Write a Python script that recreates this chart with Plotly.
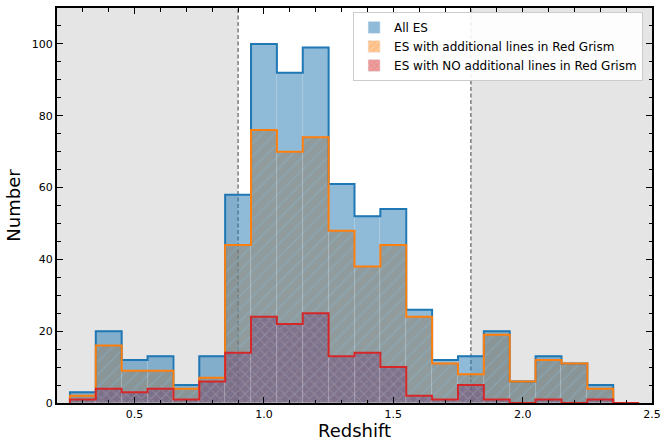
import plotly.graph_objects as go

# ---- data ----
bin_edges = [0.25, 0.35, 0.45, 0.55, 0.65, 0.75, 0.85, 0.95, 1.05, 1.15, 1.25, 1.35,
             1.45, 1.55, 1.65, 1.75, 1.85, 1.95, 2.05, 2.15, 2.25, 2.35, 2.45]
bin_centers = [0.3, 0.4, 0.5, 0.6, 0.7, 0.8, 0.9, 1.0, 1.1, 1.2, 1.3, 1.4,
               1.5, 1.6, 1.7, 1.8, 1.9, 2.0, 2.1, 2.2, 2.3, 2.4]
all_es = [3, 20, 12, 13, 5, 13, 58, 100, 92, 99, 61, 52, 54, 26, 12, 13, 20, 6, 13, 11, 5, 0]
with_lines = [2, 16, 9, 9, 4, 7, 44, 76, 70, 74, 48, 38, 44, 24, 11, 8, 19, 6, 12, 11, 4, 0]
no_lines = [1, 4, 3, 4, 1, 6, 14, 24, 22, 25, 13, 14, 10, 2, 1, 5, 1, 0, 1, 0, 1, 0]
z_low, z_high = 0.9, 1.8
x_range = [0.2, 2.5]
y_range = [0, 110]
names = ["All ES", "ES with additional lines in Red Grism", "ES with NO additional lines in Red Grism"]

BLUE, ORANGE, RED = "#1f77b4", "#ff7f0e", "#d62728"
FONT = "DejaVu Sans"


def step_outline(edges, vals):
    xs, ys = [edges[0]], [0]
    for i, v in enumerate(vals):
        xs += [edges[i], edges[i + 1]]
        ys += [v, v]
    xs.append(edges[-1])
    ys.append(0)
    return xs, ys


edge_line = dict(width=0.6, color="rgba(255,255,255,0.22)")
fig = go.Figure()

# filled histograms: orange (hatched), blue translucent over it, red cross-hatched on top
fig.add_trace(go.Bar(
    x=bin_centers, y=with_lines, width=0.1, name=names[1], showlegend=False,
    marker=dict(color="rgba(255,127,14,0.5)", line=edge_line,
                pattern=dict(shape="/", fgcolor="rgba(255,255,255,0.55)", size=9,
                             solidity=0.22, fillmode="overlay")),
))
fig.add_trace(go.Bar(
    x=bin_centers, y=all_es, width=0.1, name=names[0], showlegend=False,
    marker=dict(color="rgba(31,119,180,0.5)", line=edge_line),
))
fig.add_trace(go.Bar(
    x=bin_centers, y=no_lines, width=0.1, name=names[2], showlegend=False,
    marker=dict(color="rgba(110,72,118,0.5)", line=edge_line,
                pattern=dict(shape="x", fgcolor="rgba(255,255,255,0.3)", size=7,
                             solidity=0.3, fillmode="overlay")),
))

# outlines
for vals, col in [(all_es, BLUE), (with_lines, ORANGE), (no_lines, RED)]:
    xs, ys = step_outline(bin_edges, vals)
    fig.add_trace(go.Scatter(x=xs, y=ys, mode="lines", showlegend=False,
                             line=dict(color=col, width=2), hoverinfo="skip"))

# legend entries
fig.add_trace(go.Bar(x=[None], y=[None], name=names[0], legendrank=1,
                     marker=dict(color="rgba(31,119,180,0.5)")))
fig.add_trace(go.Bar(x=[None], y=[None], name=names[1], legendrank=2,
                     marker=dict(color="rgba(255,127,14,0.5)",
                                 pattern=dict(shape="/", fgcolor="rgba(255,255,255,0.5)", size=6,
                                              solidity=0.25, fillmode="overlay"))))
fig.add_trace(go.Bar(x=[None], y=[None], name=names[2], legendrank=3,
                     marker=dict(color="rgba(214,39,40,0.5)",
                                 pattern=dict(shape="x", fgcolor="rgba(255,255,255,0.5)", size=5,
                                              solidity=0.25, fillmode="overlay"))))

# shaded excluded regions and dashed limits
fig.add_shape(type="rect", xref="x", yref="paper", x0=x_range[0], x1=z_low, y0=0, y1=1,
              fillcolor="#e5e5e5", line_width=0, layer="below")
fig.add_shape(type="rect", xref="x", yref="paper", x0=z_high, x1=x_range[1], y0=0, y1=1,
              fillcolor="#e5e5e5", line_width=0, layer="below")
for xv in (z_low, z_high):
    fig.add_shape(type="line", xref="x", yref="paper", x0=xv, x1=xv, y0=0, y1=1,
                  line=dict(color="#444444", width=1, dash="4px,2.5px"), layer="below")

axis_common = dict(
    showline=True, linecolor="black", linewidth=2, mirror="allticks",
    ticks="inside", ticklen=6, tickwidth=1.3, tickcolor="black",
    showgrid=False, zeroline=False, automargin=False, ticklabeloverflow="allow",
    tickfont=dict(family=FONT, size=11, color="black"),
)

fig.update_xaxes(
    range=x_range, dtick=0.5, tick0=0, tickformat=".1f",
    minor=dict(ticks="inside", ticklen=3.5, tickwidth=1, tickcolor="black", dtick=0.1, showgrid=False),
    title=dict(text="Redshift", font=dict(family=FONT, size=18, color="black"), standoff=2),
    **axis_common,
)
fig.update_yaxes(
    range=y_range, dtick=20, tick0=0,
    minor=dict(ticks="inside", ticklen=3.5, tickwidth=1, tickcolor="black", dtick=5, showgrid=False),
    title=dict(text="Number", font=dict(family=FONT, size=18, color="black"), standoff=6),
    **axis_common,
)

fig.update_layout(
    width=660, height=441,
    margin=dict(l=57, r=8, t=8, b=38),
    barmode="overlay", bargap=0,
    plot_bgcolor="white", paper_bgcolor="white",
    font=dict(family=FONT, size=12, color="black"),
    legend=dict(x=0.985, y=0.99, xanchor="right", yanchor="top",
                bgcolor="rgba(255,255,255,0.9)", bordercolor="#cccccc", borderwidth=1,
                font=dict(family=FONT, size=12, color="black"),
                traceorder="normal", tracegroupgap=0),
)

fig.write_html("out.html", config={"displayModeBar": False},
               post_script="document.body.style.margin='0';")
